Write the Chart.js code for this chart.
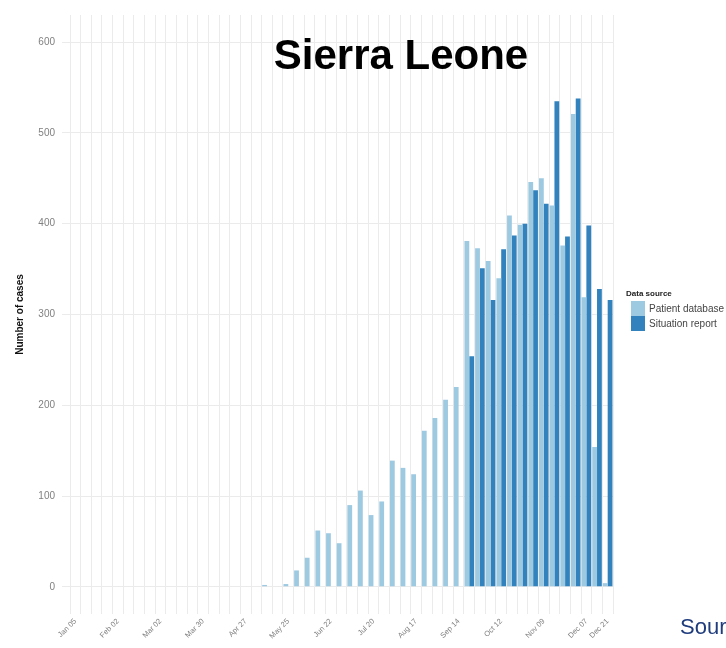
<!DOCTYPE html>
<html>
<head>
<meta charset="utf-8">
<title>Sierra Leone</title>
<script src="https://cdn.jsdelivr.net/npm/chart.js"></script>
<style>
  html, body { margin: 0; padding: 0; background: #fff; overflow: hidden; }
  #wrap { position: relative; width: 726px; height: 648px; overflow: hidden;
          font-family: "Liberation Sans", Arial, sans-serif; }
  #casesChart { position: absolute; left: 0; top: 0; }
  #title { position: absolute; left: 201px; width: 400px; top: 34px; text-align: center;
           font-size: 42px; line-height: 42px; font-weight: bold; color: #000; white-space: nowrap; }
  #legend { position: absolute; left: 626px; top: 289px; font-size: 10px; color: #444; white-space: nowrap; }
  #legend .ttl { font-weight: bold; font-size: 8px; color: #222; margin-bottom: 3px; }
  #legend .item { height: 15px; line-height: 15px; padding-left: 5px; }
  #legend .sw { display: inline-block; width: 14px; height: 15px; vertical-align: top; margin-right: 4px; }
  #source { position: absolute; left: 680px; top: 616px; font-size: 22px; line-height: 22px;
            color: #1f3c7d; white-space: nowrap; }
</style>
</head>
<body>
<div id="wrap">
  <canvas id="casesChart" width="726" height="648"></canvas>
  <div id="title">Sierra Leone</div>
  <div id="legend"></div>
  <div id="source">Source</div>
</div>
<script>
// weekly categories (2014)
var weeks = ['Jan 05','Jan 12','Jan 19','Jan 26','Feb 02','Feb 09','Feb 16','Feb 23',
  'Mar 02','Mar 09','Mar 16','Mar 23','Mar 30','Apr 06','Apr 13','Apr 20',
  'Apr 27','May 04','May 11','May 18','May 25','Jun 01','Jun 08','Jun 15',
  'Jun 22','Jun 29','Jul 06','Jul 13','Jul 20','Jul 27','Aug 03','Aug 10',
  'Aug 17','Aug 24','Aug 31','Sep 07','Sep 14','Sep 21','Sep 28','Oct 05',
  'Oct 12','Oct 19','Oct 26','Nov 02','Nov 09','Nov 16','Nov 23','Nov 30',
  'Dec 07','Dec 14','Dec 21'];

// only these weeks get a label on the x axis
var tickLabels = ['Jan 05','Feb 02','Mar 02','Mar 30','Apr 27','May 25','Jun 22',
  'Jul 20','Aug 17','Sep 14','Oct 12','Nov 09','Dec 07','Dec 21'];

var yTicks = [0, 100, 200, 300, 400, 500, 600];

var patientDb = [null,null,null,null,null,null,null,null,
  null,null,null,null,null,null,null,null,
  null,null,2,null,3,18,32,62,
  59,48,90,106,79,94,139,131,
  124,172,186,206,220,381,373,359,
  340,409,399,446,450,420,376,521,
  319,154,4];

var sitRep = [null,null,null,null,null,null,null,null,
  null,null,null,null,null,null,null,null,
  null,null,null,null,null,null,null,null,
  null,null,null,null,null,null,null,null,
  null,null,null,null,null,254,351,316,
  372,387,400,437,422,535,386,538,
  398,328,316];

var seriesNames = ['Patient database', 'Situation report'];
var seriesColors = ['#9ecae1', '#3182bd'];

var gridColor = '#ebebeb';
var fontFam = '"Liberation Sans", Arial, sans-serif';

var chart = new Chart(document.getElementById('casesChart'), {
  type: 'bar',
  data: {
    labels: weeks,
    datasets: [
      {
        label: seriesNames[0],
        data: patientDb,
        backgroundColor: seriesColors[0],
        borderWidth: 0,
        categoryPercentage: 0.9,
        barPercentage: 1.0
      },
      {
        label: seriesNames[1],
        data: sitRep,
        backgroundColor: seriesColors[1],
        borderWidth: 0,
        categoryPercentage: 0.9,
        barPercentage: 1.0
      }
    ]
  },
  options: {
    responsive: false,
    animation: false,
    layout: { padding: { left: 14, right: 113, top: 15, bottom: 0 } },
    plugins: {
      legend: { display: false },
      tooltip: { enabled: false }
    },
    scales: {
      x: {
        offset: true,
        grid: { color: gridColor, offset: true, drawTicks: false },
        border: { display: false },
        ticks: {
          autoSkip: false,
          maxRotation: 45,
          minRotation: 45,
          padding: 3,
          color: '#808080',
          font: { size: 7.5, family: fontFam },
          callback: function(value, index) {
            return tickLabels.indexOf(weeks[index]) >= 0 ? weeks[index] : '';
          }
        },
        afterFit: function(scale) { scale.height = 34; }
      },
      y: {
        min: -30,
        max: 630,
        grid: { color: gridColor, tickLength: 8 },
        border: { display: false },
        ticks: {
          padding: 7,
          color: '#808080',
          font: { size: 10, family: fontFam }
        },
        afterBuildTicks: function(scale) {
          scale.ticks = yTicks.map(function(v) { return { value: v }; });
        },
        title: {
          display: true,
          text: 'Number of cases',
          color: '#111',
          padding: { top: 0, bottom: 4 },
          font: { size: 10, weight: 'bold', family: fontFam }
        },
        afterFit: function(scale) { scale.width = 56; }
      }
    }
  }
});

// legend built from the datasets
var legendHtml = '<div class="ttl">Data source</div>';
chart.data.datasets.forEach(function(ds) {
  legendHtml += '<div class="item"><span class="sw" style="background:' + ds.backgroundColor +
    '"></span>' + ds.label + '</div>';
});
document.getElementById('legend').innerHTML = legendHtml;
</script>
</body>
</html>
